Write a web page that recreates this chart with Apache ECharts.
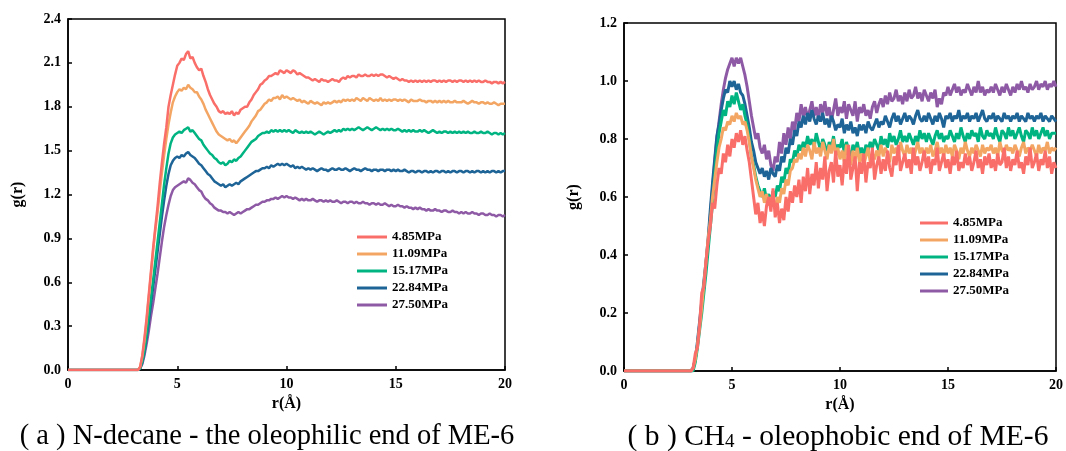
<!DOCTYPE html>
<html><head><meta charset="utf-8">
<script src="https://cdn.jsdelivr.net/npm/echarts@6/dist/echarts.min.js"></script>
<style>html,body{margin:0;padding:0;background:#fff}#c{width:1066px;height:451px}</style>
</head><body><div id="c"></div>
<script>
// r grid (Å)
const r = [
0,0.1,0.2,0.3,0.4,0.5,0.6,0.7,0.8,0.9,
1,1.1,1.2,1.3,1.4,1.5,1.6,1.7,1.8,1.9,
2,2.1,2.2,2.3,2.4,2.5,2.6,2.7,2.8,2.9,
3,3.1,3.2,3.3,3.4,3.5,3.6,3.7,3.8,3.9,
4,4.1,4.2,4.3,4.4,4.5,4.6,4.7,4.8,4.9,
5,5.1,5.2,5.3,5.4,5.5,5.6,5.7,5.8,5.9,
6,6.1,6.2,6.3,6.4,6.5,6.6,6.7,6.8,6.9,
7,7.1,7.2,7.3,7.4,7.5,7.6,7.7,7.8,7.9,
8,8.1,8.2,8.3,8.4,8.5,8.6,8.7,8.8,8.9,
9,9.1,9.2,9.3,9.4,9.5,9.6,9.7,9.8,9.9,
10,10.1,10.2,10.3,10.4,10.5,10.6,10.7,10.8,10.9,
11,11.1,11.2,11.3,11.4,11.5,11.6,11.7,11.8,11.9,
12,12.1,12.2,12.3,12.4,12.5,12.6,12.7,12.8,12.9,
13,13.1,13.2,13.3,13.4,13.5,13.6,13.7,13.8,13.9,
14,14.1,14.2,14.3,14.4,14.5,14.6,14.7,14.8,14.9,
15,15.1,15.2,15.3,15.4,15.5,15.6,15.7,15.8,15.9,
16,16.1,16.2,16.3,16.4,16.5,16.6,16.7,16.8,16.9,
17,17.1,17.2,17.3,17.4,17.5,17.6,17.7,17.8,17.9,
18,18.1,18.2,18.3,18.4,18.5,18.6,18.7,18.8,18.9,
19,19.1,19.2,19.3,19.4,19.5,19.6,19.7,19.8,19.9,
20];

const pressures = ['4.85MPa','11.09MPa','15.17MPa','22.84MPa','27.50MPa'];

// (a) N-decane
const a485 = [
0,0,0,0,0,0,0,0,0,0, 0,0,0,0,0,0,0,0,0,0, 0,0,0,0,0,0,0,0,0,0,
0,0,0,.02,.10,.22,.36,.52,.68,.84,
.98,1.12,1.28,1.42,1.55,1.66,1.80,1.88,1.95,2.02,
2.08,2.10,2.13,2.12,2.16,2.18,2.13,2.14,2.10,2.07,
2.05,2.06,2.01,1.97,1.92,1.88,1.85,1.82,1.80,1.77,
1.76,1.77,1.75,1.76,1.75,1.77,1.74,1.76,1.75,1.78,
1.79,1.80,1.80,1.83,1.85,1.88,1.90,1.92,1.95,1.96,
1.98,1.99,2.01,2.01,2.02,2.03,2.02,2.05,2.04,2.03,
2.05,2.04,2.03,2.05,2.04,2.02,2.03,2.02,2.01,2.00,
2.00,1.99,1.98,1.99,1.98,1.97,1.99,1.98,1.98,1.97,
1.98,1.99,1.98,1.98,1.97,1.99,2.00,1.99,2.01,2.00,
2.01,2.01,2.00,2.02,2.01,2.01,2.02,2.01,2.01,2.02,
2.01,2.02,2.01,2.02,2.02,2.01,2.00,2.01,2.00,1.99,
2.00,1.99,1.98,1.99,1.98,1.98,1.97,1.98,1.97,1.98,
1.97,1.98,1.97,1.98,1.97,1.98,1.97,1.98,1.98,1.97,
1.98,1.97,1.98,1.97,1.98,1.98,1.97,1.98,1.97,1.98,
1.98,1.97,1.98,1.97,1.98,1.97,1.98,1.97,1.98,1.97,
1.97,1.98,1.97,1.97,1.96,1.97,1.97,1.96,1.97,1.96,
1.97];
const a1109 = [
0,0,0,0,0,0,0,0,0,0, 0,0,0,0,0,0,0,0,0,0, 0,0,0,0,0,0,0,0,0,0,
0,0,0,.02,.09,.20,.34,.50,.66,.82,
.96,1.08,1.22,1.35,1.47,1.58,1.68,1.76,1.83,1.87,
1.90,1.92,1.91,1.93,1.92,1.95,1.93,1.92,1.90,1.90,
1.87,1.85,1.82,1.78,1.75,1.72,1.69,1.66,1.63,1.61,
1.60,1.59,1.58,1.57,1.58,1.56,1.57,1.55,1.57,1.59,
1.61,1.63,1.65,1.67,1.70,1.72,1.74,1.77,1.78,1.80,
1.82,1.83,1.85,1.84,1.86,1.86,1.87,1.85,1.88,1.86,
1.87,1.86,1.85,1.86,1.85,1.84,1.85,1.83,1.84,1.83,
1.82,1.84,1.83,1.82,1.83,1.82,1.81,1.83,1.82,1.83,
1.82,1.83,1.84,1.83,1.84,1.83,1.85,1.84,1.85,1.84,
1.85,1.84,1.86,1.85,1.84,1.86,1.85,1.84,1.86,1.85,
1.84,1.85,1.84,1.86,1.84,1.85,1.84,1.85,1.84,1.85,
1.85,1.84,1.85,1.84,1.85,1.84,1.83,1.85,1.84,1.84,
1.84,1.85,1.84,1.84,1.83,1.84,1.84,1.83,1.84,1.83,
1.84,1.83,1.84,1.83,1.84,1.83,1.83,1.84,1.83,1.83,
1.83,1.84,1.83,1.82,1.83,1.84,1.83,1.83,1.82,1.83,
1.83,1.82,1.83,1.82,1.82,1.83,1.82,1.81,1.82,1.82,
1.82];
const a1517 = [
0,0,0,0,0,0,0,0,0,0, 0,0,0,0,0,0,0,0,0,0, 0,0,0,0,0,0,0,0,0,0,
0,0,0,.01,.06,.14,.25,.38,.50,.62,
.75,.88,1.01,1.14,1.27,1.38,1.48,1.55,1.59,1.61,
1.62,1.63,1.62,1.64,1.65,1.66,1.63,1.64,1.62,1.60,
1.58,1.57,1.54,1.52,1.50,1.48,1.47,1.45,1.44,1.42,
1.41,1.42,1.40,1.41,1.43,1.42,1.44,1.43,1.45,1.46,
1.48,1.50,1.52,1.54,1.56,1.57,1.58,1.60,1.61,1.62,
1.62,1.63,1.62,1.64,1.63,1.64,1.63,1.64,1.63,1.64,
1.63,1.64,1.63,1.62,1.64,1.63,1.62,1.63,1.62,1.63,
1.62,1.63,1.62,1.61,1.62,1.63,1.62,1.61,1.62,1.63,
1.62,1.63,1.64,1.63,1.64,1.63,1.65,1.64,1.65,1.64,
1.65,1.64,1.65,1.66,1.65,1.64,1.65,1.66,1.65,1.64,
1.65,1.66,1.65,1.64,1.65,1.64,1.65,1.64,1.65,1.64,
1.64,1.65,1.64,1.63,1.64,1.63,1.64,1.63,1.64,1.63,
1.63,1.64,1.63,1.64,1.63,1.62,1.63,1.64,1.63,1.62,
1.63,1.62,1.63,1.63,1.62,1.63,1.62,1.63,1.62,1.63,
1.62,1.63,1.62,1.63,1.62,1.62,1.63,1.62,1.62,1.63,
1.62,1.62,1.63,1.62,1.61,1.62,1.62,1.61,1.62,1.61,
1.62];
const a2284 = [
0,0,0,0,0,0,0,0,0,0, 0,0,0,0,0,0,0,0,0,0, 0,0,0,0,0,0,0,0,0,0,
0,0,0,.01,.05,.12,.22,.33,.45,.57,
.69,.81,.93,1.05,1.16,1.26,1.34,1.40,1.43,1.45,
1.46,1.45,1.47,1.46,1.48,1.49,1.47,1.46,1.45,1.43,
1.41,1.40,1.38,1.36,1.34,1.33,1.31,1.29,1.28,1.27,
1.26,1.27,1.25,1.26,1.27,1.26,1.27,1.28,1.27,1.29,
1.30,1.31,1.32,1.33,1.34,1.35,1.36,1.36,1.37,1.38,
1.38,1.39,1.38,1.40,1.39,1.40,1.41,1.40,1.41,1.40,
1.41,1.40,1.39,1.40,1.38,1.39,1.38,1.39,1.38,1.37,
1.38,1.37,1.38,1.37,1.36,1.37,1.38,1.37,1.37,1.36,
1.37,1.38,1.37,1.37,1.38,1.37,1.37,1.38,1.37,1.36,
1.37,1.38,1.37,1.37,1.36,1.37,1.38,1.37,1.37,1.36,
1.37,1.37,1.36,1.37,1.37,1.36,1.37,1.37,1.36,1.37,
1.36,1.37,1.36,1.36,1.37,1.36,1.35,1.36,1.36,1.35,
1.36,1.36,1.35,1.36,1.36,1.35,1.36,1.35,1.36,1.36,
1.35,1.36,1.36,1.35,1.36,1.35,1.36,1.36,1.35,1.36,
1.36,1.35,1.36,1.36,1.35,1.36,1.35,1.36,1.36,1.35,
1.36,1.35,1.36,1.35,1.36,1.36,1.35,1.36,1.35,1.36,
1.36];
const a2750 = [
0,0,0,0,0,0,0,0,0,0, 0,0,0,0,0,0,0,0,0,0, 0,0,0,0,0,0,0,0,0,0,
0,0,0,.01,.04,.10,.18,.27,.37,.46,
.56,.66,.77,.88,.98,1.06,1.13,1.19,1.23,1.25,
1.26,1.27,1.28,1.29,1.28,1.31,1.30,1.28,1.27,1.25,
1.23,1.22,1.19,1.17,1.16,1.14,1.13,1.11,1.10,1.09,
1.09,1.08,1.08,1.07,1.08,1.07,1.06,1.07,1.08,1.07,
1.08,1.09,1.10,1.10,1.11,1.12,1.13,1.13,1.14,1.15,
1.15,1.16,1.16,1.17,1.17,1.18,1.17,1.18,1.19,1.18,
1.19,1.18,1.18,1.17,1.18,1.17,1.16,1.17,1.16,1.17,
1.16,1.16,1.17,1.16,1.15,1.16,1.16,1.15,1.16,1.15,
1.16,1.15,1.15,1.16,1.15,1.14,1.15,1.15,1.14,1.15,
1.15,1.14,1.15,1.14,1.14,1.15,1.14,1.14,1.13,1.14,
1.14,1.13,1.14,1.13,1.13,1.14,1.13,1.12,1.13,1.12,
1.12,1.13,1.12,1.12,1.11,1.12,1.11,1.11,1.10,1.11,
1.10,1.11,1.10,1.10,1.09,1.10,1.09,1.09,1.10,1.09,
1.09,1.08,1.09,1.09,1.08,1.08,1.09,1.08,1.08,1.07,
1.08,1.07,1.08,1.07,1.07,1.08,1.07,1.07,1.06,1.07,
1.07,1.06,1.06,1.07,1.06,1.06,1.05,1.06,1.06,1.05,
1.06];

// (b) CH4
const b485 = [
0,0,0,0,0,0,0,0,0,0, 0,0,0,0,0,0,0,0,0,0, 0,0,0,0,0,0,0,0,0,0,
0,0,.01,.06,.08,.16,.27,.29,.38,.45,
.50,.58,.56,.64,.70,.68,.75,.72,.78,.74,
.80,.77,.82,.79,.83,.78,.81,.76,.72,.66,
.60,.54,.58,.51,.55,.50,.57,.60,.55,.63,
.53,.58,.51,.56,.52,.60,.55,.62,.58,.64,
.60,.66,.58,.67,.62,.70,.61,.68,.64,.72,
.63,.70,.66,.74,.62,.69,.72,.65,.76,.67,
.71,.64,.73,.68,.78,.66,.70,.74,.62,.72,
.68,.75,.65,.72,.70,.77,.66,.71,.74,.68,
.73,.69,.76,.70,.67,.74,.71,.78,.69,.72,
.75,.70,.73,.68,.77,.71,.74,.69,.72,.76,
.70,.74,.68,.73,.71,.77,.69,.72,.75,.70,
.73,.68,.74,.71,.76,.69,.72,.70,.75,.71,
.74,.69,.72,.76,.70,.73,.68,.74,.71,.75,
.70,.73,.69,.75,.71,.72,.77,.70,.74,.69,
.73,.71,.76,.70,.72,.68,.74,.71,.77,.70,
.72,.75,.69,.73,.71,.76,.70,.74,.68,.72,
.70];
const b1109 = [
0,0,0,0,0,0,0,0,0,0, 0,0,0,0,0,0,0,0,0,0, 0,0,0,0,0,0,0,0,0,0,
0,0,.01,.04,.09,.15,.22,.30,.38,.46,
.52,.60,.66,.72,.77,.80,.84,.83,.86,.85,
.88,.86,.89,.87,.88,.85,.86,.83,.79,.74,
.70,.66,.63,.60,.62,.58,.61,.57,.60,.58,
.56,.60,.58,.63,.61,.66,.64,.69,.70,.73,
.72,.75,.73,.77,.74,.78,.76,.73,.79,.75,
.77,.74,.79,.76,.73,.78,.75,.80,.74,.77,
.73,.76,.72,.78,.74,.71,.76,.73,.77,.72,
.75,.71,.74,.77,.72,.75,.73,.76,.74,.78,
.74,.77,.75,.72,.78,.75,.77,.74,.79,.76,
.74,.78,.75,.77,.73,.76,.79,.75,.77,.74,
.77,.75,.78,.74,.76,.79,.75,.77,.74,.78,
.75,.77,.74,.78,.76,.73,.77,.75,.79,.76,
.74,.77,.75,.78,.76,.74,.78,.75,.77,.76,
.78,.75,.77,.74,.79,.76,.75,.78,.76,.77,
.75,.78,.76,.74,.77,.79,.75,.77,.76,.78,
.76,.74,.78,.75,.77,.76,.79,.75,.77,.76,
.77];
const b1517 = [
0,0,0,0,0,0,0,0,0,0, 0,0,0,0,0,0,0,0,0,0, 0,0,0,0,0,0,0,0,0,0,
0,0,0,.03,.08,.14,.20,.27,.34,.42,
.50,.58,.68,.76,.82,.86,.90,.88,.93,.91,
.95,.92,.96,.93,.90,.92,.88,.85,.80,.74,
.71,.67,.64,.62,.60,.63,.59,.61,.58,.62,
.60,.64,.62,.67,.65,.70,.68,.73,.72,.76,
.74,.78,.76,.79,.77,.81,.78,.80,.77,.82,
.79,.76,.80,.78,.75,.79,.77,.81,.76,.78,
.77,.80,.75,.79,.76,.74,.78,.76,.79,.75,
.77,.74,.78,.76,.79,.77,.80,.78,.76,.81,
.78,.80,.77,.82,.79,.81,.78,.80,.83,.79,
.81,.79,.82,.80,.78,.81,.79,.83,.80,.82,
.79,.82,.80,.78,.81,.83,.80,.82,.79,.81,
.80,.83,.81,.79,.82,.80,.84,.81,.79,.82,
.80,.83,.81,.82,.79,.84,.81,.80,.83,.81,
.82,.80,.84,.81,.79,.83,.82,.80,.84,.81,
.83,.80,.82,.84,.81,.79,.83,.82,.80,.84,
.81,.83,.80,.82,.84,.81,.83,.80,.82,.82,
.82];
const b2284 = [
0,0,0,0,0,0,0,0,0,0, 0,0,0,0,0,0,0,0,0,0, 0,0,0,0,0,0,0,0,0,0,
0,0,.01,.04,.10,.17,.24,.31,.38,.46,
.56,.65,.73,.81,.85,.90,.94,.97,.96,1.0,
.98,1.0,.97,.99,.96,.95,.92,.88,.84,.79,
.76,.72,.70,.68,.70,.67,.69,.66,.70,.68,
.67,.71,.69,.74,.72,.77,.75,.80,.78,.83,
.81,.86,.84,.88,.85,.89,.86,.90,.87,.85,
.88,.86,.89,.85,.87,.84,.88,.86,.83,.85,
.84,.87,.82,.85,.83,.86,.82,.84,.81,.85,
.83,.85,.82,.86,.84,.83,.85,.87,.84,.86,
.85,.88,.86,.84,.87,.89,.86,.88,.85,.87,
.89,.86,.88,.87,.85,.88,.90,.87,.86,.88,
.86,.89,.87,.85,.88,.86,.89,.87,.84,.88,
.87,.89,.86,.88,.87,.90,.86,.88,.87,.89,
.86,.88,.87,.89,.86,.88,.90,.87,.86,.88,
.87,.89,.86,.88,.87,.86,.89,.87,.88,.86,
.88,.87,.89,.86,.88,.87,.86,.89,.87,.88,
.86,.88,.87,.89,.86,.88,.87,.86,.88,.87,
.86];
const b2750 = [
0,0,0,0,0,0,0,0,0,0, 0,0,0,0,0,0,0,0,0,0, 0,0,0,0,0,0,0,0,0,0,
0,0,.01,.04,.09,.16,.23,.30,.37,.45,
.54,.63,.72,.80,.86,.92,.97,1.01,1.04,1.06,
1.08,1.05,1.08,1.06,1.08,1.05,1.02,.98,.93,.88,
.84,.80,.82,.77,.75,.78,.73,.76,.71,.69,
.74,.72,.79,.75,.82,.78,.84,.80,.86,.83,
.89,.86,.92,.88,.91,.87,.90,.93,.88,.91,
.87,.92,.89,.93,.88,.91,.86,.90,.94,.88,
.91,.89,.93,.87,.92,.90,.88,.93,.86,.91,
.89,.92,.88,.90,.87,.91,.93,.89,.92,.94,
.91,.95,.92,.96,.93,.94,.97,.93,.95,.92,
.96,.93,.97,.94,.95,.98,.94,.96,.93,.97,
.95,.93,.96,.94,.97,.91,.94,.92,.96,.95,
.98,.95,.97,.99,.96,.98,.95,.97,.96,.99,
.97,.95,.98,.96,1.0,.96,.98,.95,.97,.96,
.98,.96,.99,.97,.95,.98,.96,.99,.97,.95,
.98,.96,.99,.97,1.0,.97,.98,.96,.99,.97,
.98,1.0,.97,.99,.98,1.0,.97,.99,.98,1.0,
.98];

const seriesA = [a485, a1109, a1517, a2284, a2750];
const seriesB = [b485, b1109, b1517, b2284, b2750];
const colors = ['#FA6E69','#F3A664','#00B482','#1E6496','#8E5AA5'];

const serif = 'Liberation Serif';
const chart = echarts.init(document.getElementById('c'), null, {renderer:'canvas'});

function xAx(g){
  return {type:'value', gridIndex:g, min:0, max:20, interval:5,
    axisLine:{show:true, onZero:false, lineStyle:{color:'#000', width:1.5}},
    axisTick:{show:true, inside:true, length:4, lineStyle:{color:'#000', width:1.5}},
    axisLabel:{color:'#000', fontFamily:serif, fontWeight:'bold', fontSize:14, margin:7},
    splitLine:{show:false},
    name:'r(Å)', nameLocation:'middle', nameGap:24,
    nameTextStyle:{color:'#000', fontFamily:serif, fontWeight:'bold', fontSize:16}};
}
function yAx(g, max, interval, gap){
  return {type:'value', gridIndex:g, min:0, max:max, interval:interval,
    axisLine:{show:true, onZero:false, lineStyle:{color:'#000', width:1.5}},
    axisTick:{show:true, inside:true, length:4, lineStyle:{color:'#000', width:1.5}},
    axisLabel:{color:'#000', fontFamily:serif, fontWeight:'bold', fontSize:14, margin:7,
      formatter:v=>v.toFixed(1)},
    splitLine:{show:false},
    name:'g(r)', nameLocation:'middle', nameGap:gap,
    nameTextStyle:{color:'#000', fontFamily:serif, fontWeight:'bold', fontSize:16}};
}

const series = [];
[seriesA, seriesB].forEach((set, gi) => {
  set.forEach((vals, i) => {
    series.push({
      name: pressures[i], type:'line', xAxisIndex:gi, yAxisIndex:gi,
      data: r.map((x, k) => [x, vals[k]]),
      symbol:'none', showSymbol:false, smooth:false, z: 10 - i,
      lineStyle:{color:colors[i], width: gi === 0 ? 2.5 : 3},
      itemStyle:{color:colors[i]},
      emphasis:{disabled:true}, animation:false
    });
  });
});

const legendBase = {
  orient:'vertical', icon:'rect', itemWidth:30, itemHeight:3, itemGap:3, padding:0,
  data: pressures,
  textStyle:{color:'#000', fontFamily:serif, fontWeight:'bold', fontSize:13, lineHeight:14}
};

chart.setOption({
  backgroundColor:'#fff',
  animation:false,
  grid:[
    {left:68, top:19, width:437, height:351, show:true, borderColor:'#000', borderWidth:1.5, containLabel:false},
    {left:624, top:23, width:434, height:348, show:true, borderColor:'#000', borderWidth:1.5, containLabel:false}
  ],
  xAxis:[xAx(0), xAx(1)],
  yAxis:[yAx(0, 2.4, 0.3, 42), yAx(1, 1.2, 0.2, 42)],
  legend:[
    Object.assign({}, legendBase, {left:357, top:230}),
    Object.assign({}, legendBase, {left:920, top:216, itemWidth:28})
  ],
  graphic:[
    {type:'text', x:267, y:437, style:{text:'( a ) N-decane - the oleophilic end of ME-6',
      font:'28.5px "Liberation Serif"', fill:'#000', textAlign:'center', textVerticalAlign:'middle'}},
    {type:'text', x:838, y:437, style:{text:'( b ) CH{sub|4} - oleophobic end of ME-6',
      font:'29.5px "Liberation Serif"', fill:'#000', textAlign:'center', textVerticalAlign:'middle',
      rich:{sub:{fontSize:19, fontFamily:'Liberation Serif', verticalAlign:'bottom', lineHeight:26}}}}
  ],
  series: series
});
</script>
</body></html>
